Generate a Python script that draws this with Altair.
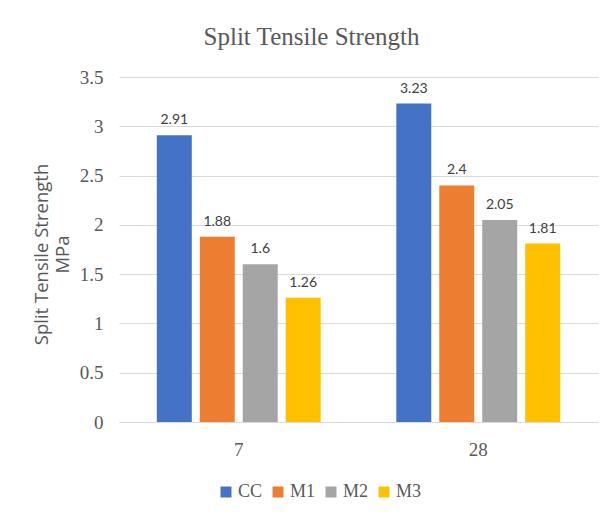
import altair as alt
import pandas as pd

ages = ["7", "28"]
series = ["CC", "M1", "M2", "M3"]
values_7 = [2.91, 1.88, 1.6, 1.26]
values_28 = [3.23, 2.4, 2.05, 1.81]
colors = ["#4472C4", "#ED7D31", "#A5A5A5", "#FFC000"]

rows = []
for age, vals in zip(ages, [values_7, values_28]):
    for s, v in zip(series, vals):
        rows.append({"age": age, "mix": s, "value": v})
df = pd.DataFrame(rows)

x = alt.X("age:N", sort=ages, title=None,
          scale=alt.Scale(paddingInner=0, paddingOuter=0),
          axis=alt.Axis(labelAngle=0, labelFont="Liberation Serif", labelFontSize=19,
                        labelColor="#595959", labelPadding=18, ticks=False,
                        domainColor="#D9D9D9", domainWidth=1))
xoff = alt.XOffset("mix:N", sort=series,
                   scale=alt.Scale(paddingInner=0.186, paddingOuter=0.88))
y = alt.Y("value:Q", title=["Split Tensile Strength", "MPa"],
          scale=alt.Scale(domain=[0, 3.5], nice=False),
          axis=alt.Axis(values=[0, 0.5, 1, 1.5, 2, 2.5, 3, 3.5], labelExpr="toString(datum.value)",
                        labelFont="Liberation Serif", labelFontSize=19, labelColor="#595959",
                        labelPadding=16, ticks=False, domain=False,
                        gridColor="#D9D9D9", gridWidth=1,
                        titleFont="Open Sans", titleFontSize=18.5, titleFontWeight="normal",
                        titleColor="#595959", titleLineHeight=21,
                        titleX=-68, titleY=177))

base = alt.Chart(df).encode(x=x, xOffset=xoff, y=y)

bars = base.mark_bar().encode(
    color=alt.Color("mix:N", sort=series, scale=alt.Scale(domain=series, range=colors),
                    legend=alt.Legend(title=None, orient="none", legendX=98, legendY=406,
                                      direction="horizontal", symbolType="square",
                                      symbolSize=121, symbolStrokeWidth=0,
                                      gridAlign="none",
                                      labelFont="Liberation Serif", labelFontSize=18,
                                      labelColor="#595959", columnPadding=6, labelOffset=3))
)
labels = base.mark_text(dy=-8, baseline="bottom", font="Lato", fontSize=14,
                        color="#404040").encode(text=alt.Text("value:Q"))

chart = (bars + labels).properties(
    width=479, height=345,
    autosize=alt.AutoSizeParams(type="none"),
    padding={"left": 111, "top": 69, "right": 4, "bottom": 84},
    title=alt.TitleParams("Split Tensile Strength", font="Liberation Serif", fontSize=25,
                          fontWeight="normal", color="#595959", dx=-47, offset=18),
).configure_view(stroke=None)

chart.save("out.html", embed_options={"renderer": "svg", "actions": False})
